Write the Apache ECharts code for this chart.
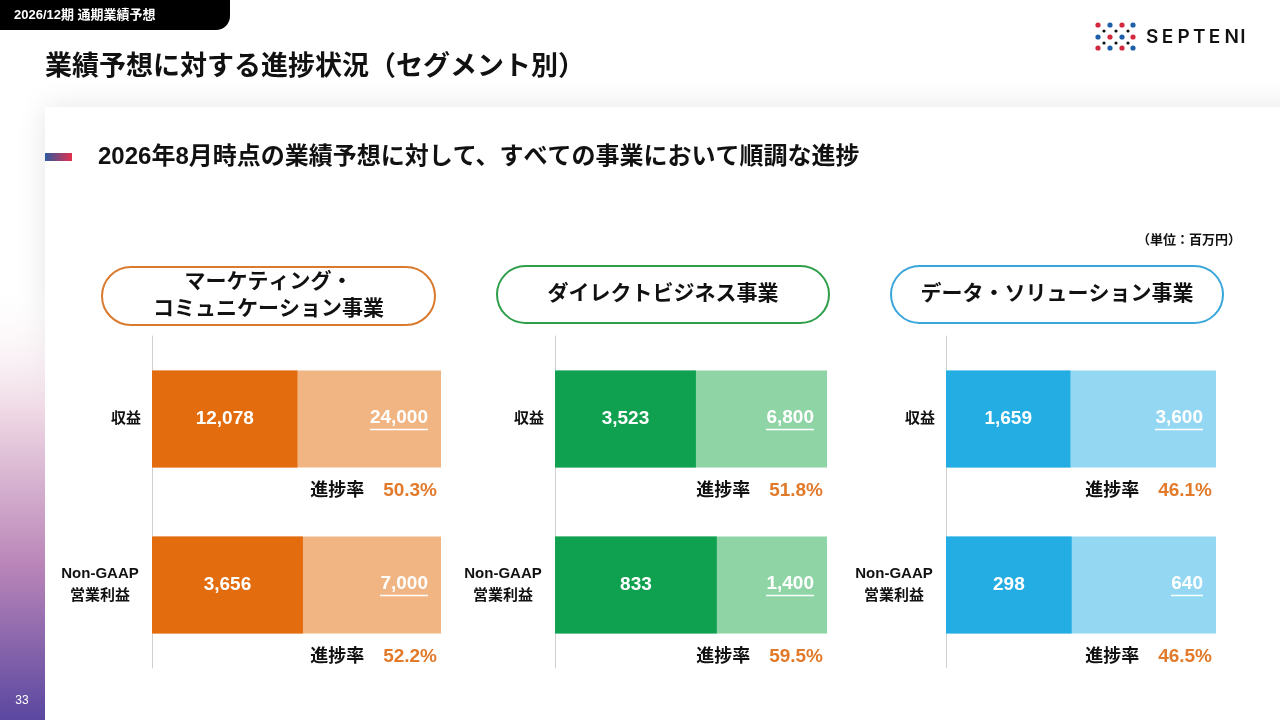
<!DOCTYPE html>
<html>
<head>
<meta charset="utf-8">
<script src="https://cdn.jsdelivr.net/npm/echarts@6/dist/echarts.min.js"></script>
<style>
  html, body { margin: 0; padding: 0; background: #fff; }
  #main { width: 1280px; height: 720px; }
</style>
</head>
<body>
<div id="main"></div>
<script>
// 数据（百万円）
var segments = ['マーケティング・\nコミュニケーション事業', 'ダイレクトビジネス事業', 'データ・ソリューション事業'];
var metrics = ['収益', 'Non-GAAP\n営業利益'];
var revenueActual = [12078, 3523, 1659];
var revenueForecast = [24000, 6800, 3600];
var revenueProgress = ['50.3%', '51.8%', '46.1%'];
var profitActual = [3656, 833, 298];
var profitForecast = [7000, 1400, 640];
var profitProgress = ['52.2%', '59.5%', '46.5%'];

var FONT = "'Liberation Sans', 'Noto Sans CJK JP', sans-serif";
var darkColors = ['#e36c0e', '#10a150', '#23ade2'];
var lightColors = ['#f1b483', '#8ed4a5', '#93d7f2'];
var pillColors = ['#d97a2e', '#2f9e4a', '#3aa6d9'];
var orange = '#e27a2b';

var chart = echarts.init(document.getElementById('main'));

// 文字宽度，用于下划线
var ctx = document.createElement('canvas').getContext('2d');
ctx.font = 'bold 19px ' + FONT;
function textW(s) { return Math.round(ctx.measureText(s).width); }
function fmt(v) { return v.toLocaleString('en-US'); }

var panelLeft = [152, 555, 946];
var panelWidth = [289, 272, 270];
var rowTop = [336, 502];
var rowHeight = 166;

var grids = [], xAxes = [], yAxes = [], series = [];

segments.forEach(function (seg, p) {
  [0, 1].forEach(function (r) {
    var idx = grids.length;
    var act = r === 0 ? revenueActual[p] : profitActual[p];
    var fc = r === 0 ? revenueForecast[p] : profitForecast[p];
    var prog = r === 0 ? revenueProgress[p] : profitProgress[p];
    grids.push({ left: panelLeft[p], top: rowTop[r], width: panelWidth[p], height: rowHeight });
    xAxes.push({ type: 'value', gridIndex: idx, min: 0, max: fc, show: false });
    yAxes.push({
      type: 'category', gridIndex: idx, data: [metrics[r]],
      axisLine: { show: true, lineStyle: { color: '#d0d0d0', width: 1 } },
      axisTick: { show: false },
      axisLabel: {
        margin: 11,
        formatter: function (v) {
          if (v.indexOf('\n') < 0) return '{r|' + v + '}';
          return v.split('\n').map(function (s) { return '{c|' + s + '}'; }).join('\n');
        },
        rich: {
          r: { fontFamily: FONT, fontWeight: 'bold', fontSize: 15, color: '#111' },
          c: { fontFamily: FONT, fontWeight: 'bold', fontSize: 15, color: '#111', width: 82, align: 'center', lineHeight: 22 }
        }
      }
    });
    // 预想（浅色）
    series.push({
      type: 'bar', xAxisIndex: idx, yAxisIndex: idx, data: [fc],
      barWidth: 97, barGap: '-100%', silent: true,
      itemStyle: { color: lightColors[p] },
      label: {
        show: true, position: 'insideRight', distance: 13,
        formatter: '{v|' + fmt(fc) + '}\n{u| }',
        rich: {
          v: { fontFamily: FONT, fontWeight: 'bold', fontSize: 19, color: '#fff', lineHeight: 21 },
          u: { width: textW(fmt(fc)), height: 1.5, fontSize: 1, lineHeight: 2, backgroundColor: '#fff' }
        }
      }
    });
    // 实绩（深色）
    series.push({
      type: 'bar', xAxisIndex: idx, yAxisIndex: idx, data: [act],
      barWidth: 97, barGap: '-100%', silent: true,
      itemStyle: { color: darkColors[p] },
      label: {
        show: true, position: 'inside',
        formatter: function (o) { return fmt(o.value); },
        fontFamily: FONT, fontWeight: 'bold', fontSize: 19, color: '#fff'
      }
    });
    // 进捗率
    series.push({
      type: 'bar', xAxisIndex: idx, yAxisIndex: idx, data: [fc],
      barWidth: 97, barGap: '-100%', silent: true,
      itemStyle: { color: 'rgba(0,0,0,0)' },
      label: {
        show: true, position: ['100%', '100%'], align: 'right', verticalAlign: 'top',
        offset: [-4, 14],
        formatter: '{k|進捗率}{p|' + prog + '}',
        rich: {
          k: { fontFamily: FONT, fontWeight: 'bold', fontSize: 18, color: '#111' },
          p: { fontFamily: FONT, fontWeight: 'bold', fontSize: 19, color: orange, padding: [0, 0, 0, 19] }
        }
      }
    });
  });
});

// 装饰
var graphics = [];
graphics.push({ type: 'rect', z: 0, shape: { x: 45, y: 107, width: 1260, height: 640 },
  style: { fill: '#fff', shadowBlur: 28, shadowColor: 'rgba(0,0,0,0.10)' } });
graphics.push({ type: 'rect', z: 1, shape: { x: 0, y: 280, width: 45, height: 440 },
  style: { fill: new echarts.graphic.LinearGradient(0, 0, 0, 1, [
    { offset: 0, color: 'rgba(255,255,255,0)' },
    { offset: 0.3, color: '#efd8e4' },
    { offset: 0.65, color: '#b985b8' },
    { offset: 1, color: '#5a47a0' }
  ]) } });
graphics.push({ type: 'text', z: 2, x: 22, y: 701,
  style: { text: '33', fill: '#fff', font: '12px ' + FONT, align: 'center', verticalAlign: 'middle' } });
graphics.push({ type: 'rect', z: 2, shape: { x: 0, y: -20, width: 230, height: 50, r: [0, 0, 14, 0] },
  style: { fill: '#000' } });
graphics.push({ type: 'text', z: 3, x: 14, y: 15,
  style: { text: '2026/12期 通期業績予想', fill: '#fff', font: 'bold 13px ' + FONT, verticalAlign: 'middle' } });
graphics.push({ type: 'text', z: 3, x: 45, y: 68,
  style: { text: '業績予想に対する進捗状況（セグメント別）', fill: '#111', font: 'bold 27px ' + FONT, verticalAlign: 'middle' } });
graphics.push({ type: 'rect', z: 3, shape: { x: 45, y: 153, width: 27, height: 8 },
  style: { fill: new echarts.graphic.LinearGradient(0, 0, 1, 0, [
    { offset: 0, color: '#2d5a9e' }, { offset: 1, color: '#e3304f' }
  ]) } });
graphics.push({ type: 'text', z: 3, x: 98, y: 157,
  style: { text: '2026年8月時点の業績予想に対して、すべての事業において順調な進捗', fill: '#111', font: 'bold 24px ' + FONT, verticalAlign: 'middle' } });
graphics.push({ type: 'text', z: 3, x: 1241, y: 240,
  style: { text: '（単位：百万円）', fill: '#111', font: 'bold 13px ' + FONT, align: 'right', verticalAlign: 'middle' } });

// 分段标题
var pillBox = [[102, 267, 333, 58], [497, 266, 332, 57], [891, 266, 332, 57]];
segments.forEach(function (seg, p) {
  var b = pillBox[p];
  graphics.push({ type: 'rect', z: 3, shape: { x: b[0], y: b[1], width: b[2], height: b[3], r: b[3] / 2 },
    style: { fill: '#fff', stroke: pillColors[p], lineWidth: 2 } });
  graphics.push({ type: 'text', z: 4, x: b[0] + b[2] / 2, y: b[1] + b[3] / 2,
    style: { text: seg, fill: '#111', font: 'bold 21px ' + FONT, align: 'center', verticalAlign: 'middle', lineHeight: 27 } });
});

// logo
var dotX = [1098, 1110, 1122, 1133];
var dotY = [25, 37, 48];
var dotC = [['#d22a3c', '#1f5fa8', '#d22a3c', '#1f5fa8'], ['#1f5fa8', '#d22a3c', '#1f5fa8', '#d22a3c'], ['#d22a3c', '#1f5fa8', '#d22a3c', '#1f5fa8']];
dotY.forEach(function (y, i) {
  dotX.forEach(function (x, j) {
    graphics.push({ type: 'circle', z: 3, shape: { cx: x, cy: y, r: 2.6 }, style: { fill: dotC[i][j] } });
  });
});
[31, 43].forEach(function (y) {
  [1104, 1116, 1128].forEach(function (x) {
    graphics.push({ type: 'circle', z: 3, shape: { cx: x, cy: y, r: 1.6 }, style: { fill: '#111' } });
  });
});
'SEPTENI'.split('').forEach(function (ch, i) {
  graphics.push({ type: 'text', z: 3, x: 1146 + i * 15.7, y: 37,
    style: { text: ch, fill: '#111', font: '600 19px Inter, ' + FONT, verticalAlign: 'middle' } });
});

chart.setOption({
  animation: false,
  grid: grids,
  xAxis: xAxes,
  yAxis: yAxes,
  series: series,
  graphic: graphics
});
</script>
</body>
</html>
